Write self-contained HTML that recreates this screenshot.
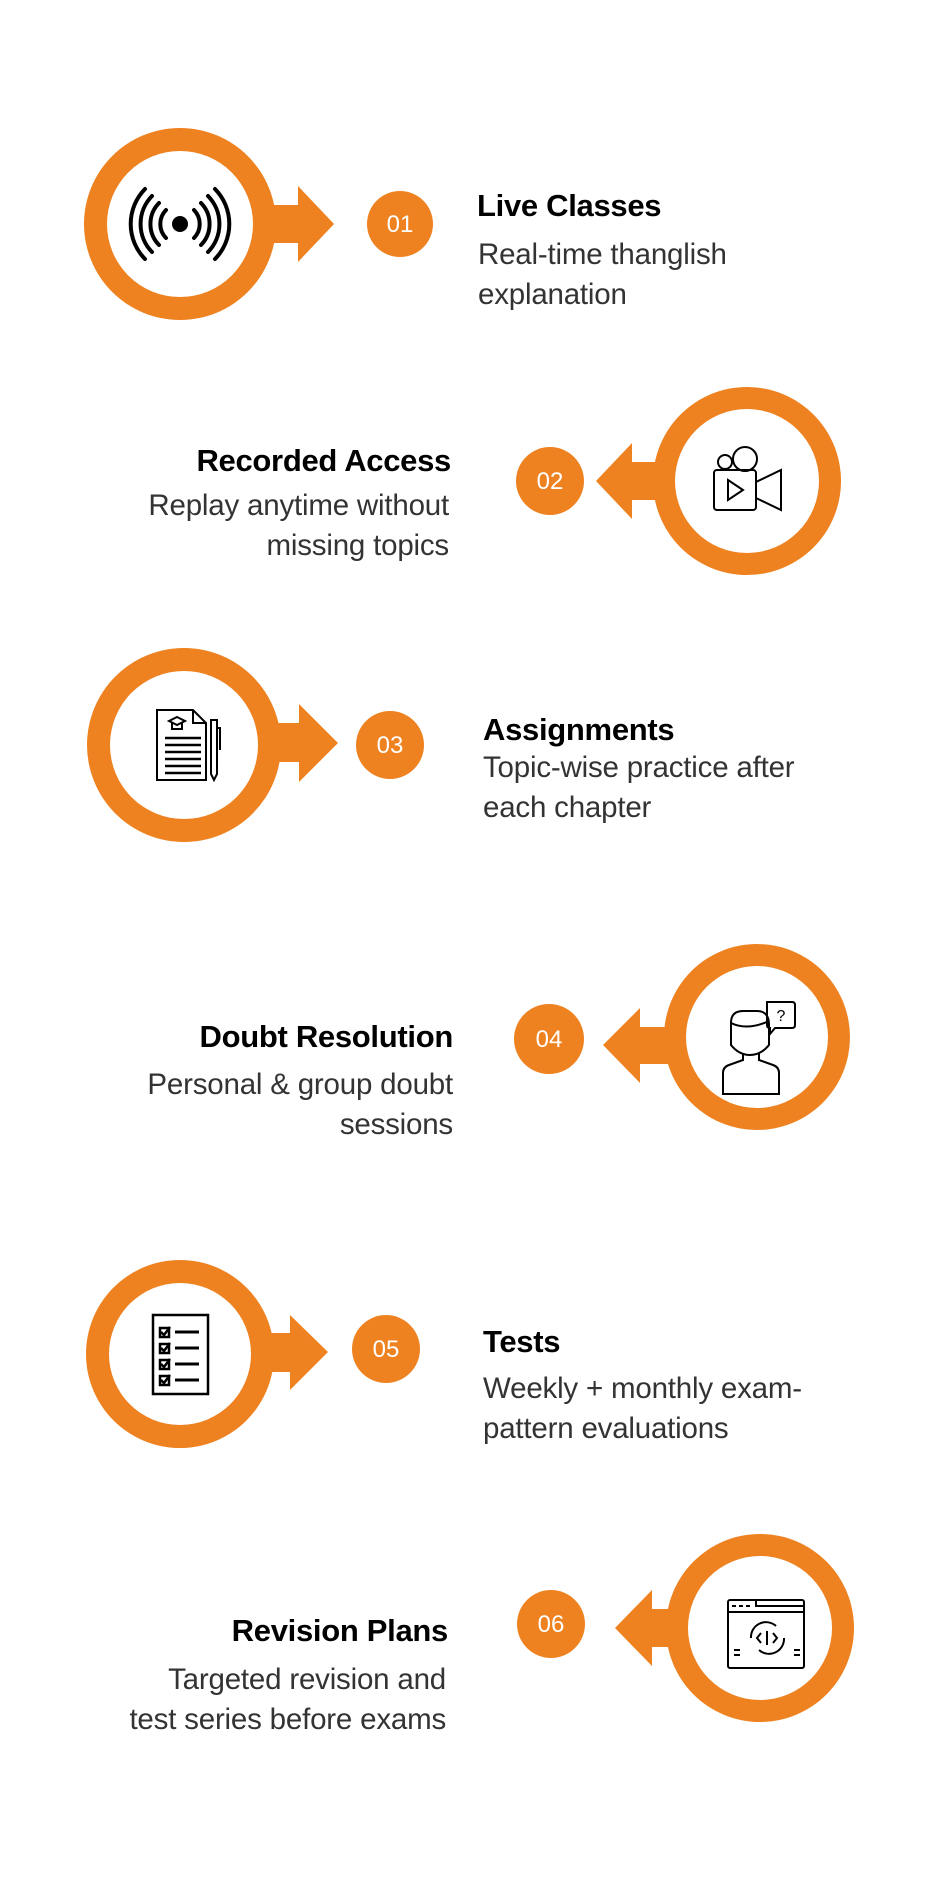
<!DOCTYPE html>
<html><head><meta charset="utf-8"><style>
html,body{margin:0;padding:0;background:#fff;}
body{width:943px;height:1900px;position:relative;overflow:hidden;font-family:"Liberation Sans",Arial,sans-serif;}
.t{position:absolute;font-weight:bold;font-size:31px;color:#000;line-height:40px;white-space:nowrap;letter-spacing:-0.3px;}
.d{position:absolute;font-size:29.5px;color:#333;line-height:40px;white-space:nowrap;letter-spacing:-0.2px;}
.r{text-align:right;}
svg{position:absolute;left:0;top:0;}
</style></head><body>
<svg width="943" height="1900" viewBox="0 0 943 1900">
<g fill="#EF8220">
<rect x="250" y="205" width="50" height="38"/><polygon points="298,186 334,224 298,262"/>
<circle cx="180" cy="224" r="96"/><circle cx="180" cy="224" r="73" fill="#fff"/>
<circle cx="400" cy="224" r="33"/>
<rect x="630" y="462" width="50" height="38"/><polygon points="632,443 596,481 632,519"/>
<circle cx="747" cy="481" r="94"/><circle cx="747" cy="481" r="72" fill="#fff"/>
<circle cx="550" cy="481" r="34"/>
<rect x="255" y="723" width="50" height="39"/><polygon points="299,704 338,743 299,782"/>
<circle cx="184" cy="745" r="97"/><circle cx="184" cy="745" r="74" fill="#fff"/>
<circle cx="390" cy="745" r="34"/>
<rect x="636" y="1027" width="50" height="37"/><polygon points="640,1008 603,1045 640,1083"/>
<circle cx="757" cy="1037" r="93"/><circle cx="757" cy="1037" r="71" fill="#fff"/>
<circle cx="549" cy="1039" r="35"/>
<rect x="250" y="1333" width="42" height="39"/><polygon points="290,1315 328,1352 290,1390"/>
<circle cx="180" cy="1354" r="94"/><circle cx="180" cy="1354" r="71" fill="#fff"/>
<circle cx="386" cy="1349" r="34"/>
<rect x="648" y="1609" width="50" height="38"/><polygon points="652,1590 615,1628 652,1666"/>
<circle cx="760" cy="1628" r="94"/><circle cx="760" cy="1628" r="72" fill="#fff"/>
<circle cx="551" cy="1624" r="34"/>
</g>
<g fill="#fff" font-family="Liberation Sans, Arial, sans-serif" font-size="24" text-anchor="middle">
<text x="400" y="232">01</text><text x="550" y="489">02</text><text x="390" y="753">03</text>
<text x="549" y="1047">04</text><text x="386" y="1357">05</text><text x="551" y="1632">06</text>
</g>
<g stroke="#000" stroke-width="4" fill="none" stroke-linecap="round">
<circle cx="180" cy="224" r="8" fill="#000" stroke="none"/>
<path d="M166 210 A20 20 0 0 0 166 238"/><path d="M159 203 A30 30 0 0 0 159 245"/><path d="M152 196 A40 40 0 0 0 152 252"/><path d="M145 189 A50 50 0 0 0 145 259"/>
<path d="M194 210 A20 20 0 0 1 194 238"/><path d="M201 203 A30 30 0 0 1 201 245"/><path d="M208 196 A40 40 0 0 1 208 252"/><path d="M215 189 A50 50 0 0 1 215 259"/>
</g>
<g stroke="#000" stroke-width="2" fill="none">
<rect x="714" y="470" width="42" height="40" rx="3"/><polygon points="728,480 743,490 728,500"/>
<polygon points="756,482 781,470 781,510 756,498"/>
<circle cx="725" cy="462" r="7"/><circle cx="745" cy="459" r="12"/>
<path d="M157 710 L193 710 L206 723 L206 780 L157 780 Z"/><path d="M193 710 L193 723 L206 723"/>
<path d="M165 738h36M165 745h36M165 752h36M165 759h36M165 766h36M165 773h36" stroke-width="2.5"/>
<path d="M169 721 L177 717 L185 721 L177 725 Z M172 723 v6 h10 v-6"/>
<path d="M211 720 h6 v54 l-3 6 l-3 -6 z M217 728 h3 v22"/>
<path d="M731 1045 v-22 q0 -12 12 -12 h14 q12 0 12 14 v20 q-8 10 -19 10 q-11 0 -19 -10z"/>
<path d="M731 1023 q16 8 38 -2"/>
<path d="M743 1053 v7 l-14 5 q-6 2 -6 8 v21 h56 v-21 q0 -6 -6 -8 l-14 -5 v-7"/>
<path d="M767 1002 h25 q3 0 3 3 v20 q0 3 -3 3 h-17 l-5 6 v-6 q-3 0 -3 -3 z"/>
<text x="781" y="1021" font-size="16" fill="#000" stroke="none" text-anchor="middle" font-family="Liberation Sans, sans-serif">?</text>
<rect x="153" y="1315" width="55" height="79" stroke-width="2.5"/>
<path d="M175 1332h24M175 1348h24M175 1364h24M175 1380h24" stroke-width="3"/>
<g stroke-width="2.5"><rect x="160" y="1328" width="9" height="9"/><rect x="160" y="1344" width="9" height="9"/><rect x="160" y="1360" width="9" height="9"/><rect x="160" y="1376" width="9" height="9"/>
<path d="M161 1332l3 3 6-8M161 1348l3 3 6-8M161 1364l3 3 6-8M161 1380l3 3 6-8"/></g>
<rect x="728" y="1600" width="76" height="68" rx="2"/><path d="M728 1612 h76"/><path d="M732 1606 h20" stroke-dasharray="4 3"/>
<path d="M756 1600 v6 h48"/>
<path d="M751 1638 a15 15 0 0 1 25 -12 M784 1638 a15 15 0 0 1 -25 12"/>
<path d="M761 1633 l-4 5 4 5 M773 1633 l4 5 -4 5 M767 1631 v14"/>
<path d="M734 1650h6M734 1655h6M794 1650h6M794 1655h6"/>
</g>
</svg>

<div class="t" style="left:477px;top:186px;">Live Classes</div>
<div class="d" style="left:478px;top:235px;">Real-time thanglish<br>explanation</div>

<div class="t r" style="right:492px;top:441px;">Recorded Access</div>
<div class="d r" style="right:494px;top:486px;">Replay anytime without<br>missing topics</div>

<div class="t" style="left:483px;top:710px;">Assignments</div>
<div class="d" style="left:483px;top:748px;">Topic-wise practice after<br>each chapter</div>

<div class="t r" style="right:490px;top:1017px;">Doubt Resolution</div>
<div class="d r" style="right:490px;top:1065px;">Personal &amp; group doubt<br>sessions</div>

<div class="t" style="left:483px;top:1322px;">Tests</div>
<div class="d" style="left:483px;top:1369px;">Weekly + monthly exam-<br>pattern evaluations</div>

<div class="t r" style="right:495px;top:1611px;">Revision Plans</div>
<div class="d r" style="right:497px;top:1660px;">Targeted revision and<br>test series before exams</div>
</body></html>
